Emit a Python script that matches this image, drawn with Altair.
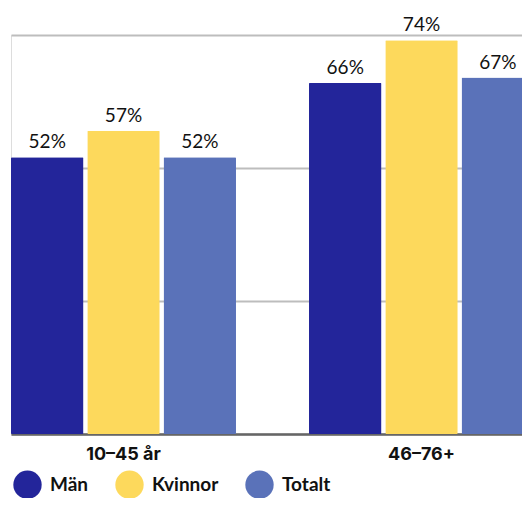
import altair as alt
import pandas as pd

groups = ["10–45 år", "46–76+"]
series = ["Män", "Kvinnor", "Totalt"]
values_men = [52, 66]
values_women = [57, 74]
values_total = [52, 67]
colors = ["#23259a", "#fdd95c", "#5a72b9"]

rows = []
for i, g in enumerate(groups):
    for s, vals in zip(series, [values_men, values_women, values_total]):
        rows.append({"grupp": g, "kön": s, "värde": vals[i], "etikett": f"{vals[i]}%"})
df = pd.DataFrame(rows)

FONT = "Lato"

x = alt.X("grupp:N", sort=groups, title=None,
          scale=alt.Scale(paddingInner=0.245, paddingOuter=0),
          axis=alt.Axis(labelAngle=0, labelFontSize=18, labelFontWeight="bold",
                        labelColor="#111111", labelFont="Inter", labelPadding=11,
                        ticks=False, domainColor="#666666", domainWidth=2.5,
                        grid=False))
y = alt.Y("värde:Q", title=None,
          scale=alt.Scale(domain=[0, 75], nice=False),
          axis=alt.Axis(values=[0, 25, 50, 75], labels=False, ticks=False,
                        domain=False, grid=True, gridColor="#bdbdbd", gridWidth=2))
xo = alt.XOffset("kön:N", sort=series, scale=alt.Scale(paddingInner=0.05, paddingOuter=0))

bars = alt.Chart(df).mark_bar(cornerRadius=1).encode(
    x=x, y=y, xOffset=xo,
    color=alt.Color("kön:N", sort=series,
                    scale=alt.Scale(domain=series, range=colors),
                    legend=alt.Legend(orient="none", legendX=2, legendY=435,
                                      direction="horizontal", title=None,
                                      symbolType="circle", symbolSize=804,
                                      symbolStrokeWidth=0, symbolOpacity=1,
                                      labelFontSize=19, labelFontWeight="bold",
                                      labelFont=FONT, labelColor="#111111",
                                      labelOffset=8, columnPadding=26)),
)

labels = alt.Chart(df).mark_text(baseline="alphabetic", dy=-9, fontSize=19,
                                 font=FONT, color="#111111").encode(
    x=alt.X("grupp:N", sort=groups), y="värde:Q", xOffset=alt.XOffset("kön:N", sort=series),
    text="etikett:N")

chart = alt.layer(bars, labels).properties(
    width=523, height=399,
    autosize=alt.AutoSizeParams(type="none"),
    padding={"left": 3, "top": 27, "right": -12, "bottom": 64},
).configure_view(stroke=None).configure(background="white")

chart.save("out.html", embed_options={"renderer": "svg", "actions": False})
